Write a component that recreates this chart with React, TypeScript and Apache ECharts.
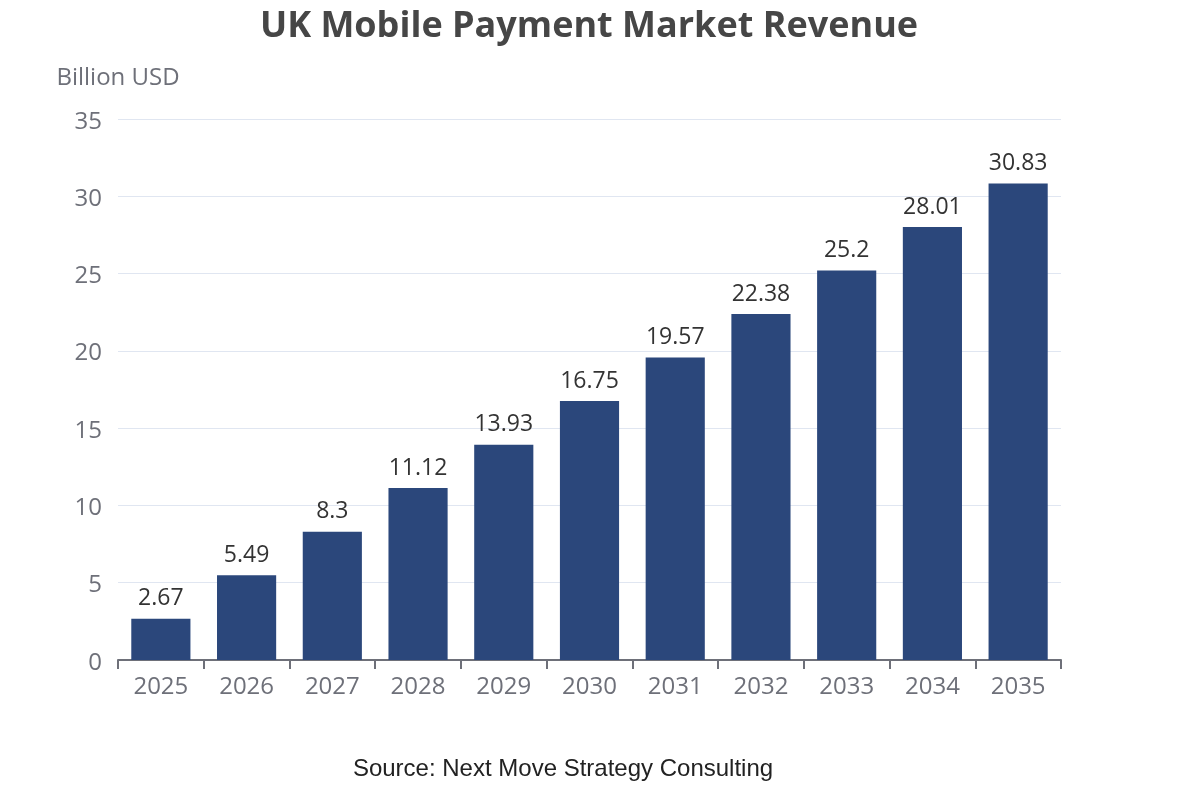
import React, { useEffect, useRef } from "react";
import * as echarts from "echarts";

const years = ["2025", "2026", "2027", "2028", "2029", "2030", "2031", "2032", "2033", "2034", "2035"];
const revenue = [2.67, 5.49, 8.3, 11.12, 13.93, 16.75, 19.57, 22.38, 25.2, 28.01, 30.83];
const titleText = "UK Mobile Payment Market Revenue";
const unitText = "Billion USD";
const sourceText = "Source: Next Move Strategy Consulting";

export default function App() {
  const ref = useRef<HTMLDivElement>(null);
  useEffect(() => {
    if (!ref.current) return;
    const chart = echarts.init(ref.current, undefined, { renderer: "svg" });
    const font = "'Open Sans', 'Noto Sans', sans-serif";
    chart.setOption({
      animation: false,
      textStyle: { fontFamily: font },
      title: [
        {
          text: titleText,
          left: "center",
          top: 0,
          textStyle: { fontSize: 36, fontWeight: "bold", color: "#464646", fontFamily: font },
        },
      ],
      graphic: [
        {
          type: "text",
          x: 563,
          y: 767,
          style: {
            text: sourceText,
            fontSize: 24,
            fontFamily: "'Liberation Sans', Arial, sans-serif",
            fill: "#222222",
            textAlign: "center",
            textVerticalAlign: "middle",
          },
        },
      ],
      grid: { left: 118, right: 117, top: 119, bottom: 140 },
      xAxis: {
        type: "category",
        data: years,
        axisLine: { lineStyle: { color: "#6e7079", width: 2 } },
        axisTick: { show: true, lineStyle: { color: "#6e7079", width: 2 }, length: 9 },
        axisLabel: { fontSize: 24, color: "#6e7079", margin: 12, fontFamily: font },
      },
      yAxis: {
        type: "value",
        min: 0,
        max: 35,
        interval: 5,
        name: unitText,
        nameGap: 32,
        nameTextStyle: { fontSize: 24, color: "#6e7079", fontFamily: font },
        axisLabel: { fontSize: 24, color: "#6e7079", margin: 16, fontFamily: font },
        splitLine: { lineStyle: { color: "#e0e6f1" } },
      },
      series: [
        {
          type: "bar",
          data: revenue,
          barWidth: "69%",
          itemStyle: { color: "#2b477b" },
          label: {
            show: true,
            position: "top",
            fontSize: 23,
            color: "#333333",
            distance: 11,
            fontFamily: font,
          },
        },
      ],
    });
    return () => chart.dispose();
  }, []);
  return <div ref={ref} style={{ position: "fixed", left: 0, top: 0, width: 1178, height: 800 }} />;
}
